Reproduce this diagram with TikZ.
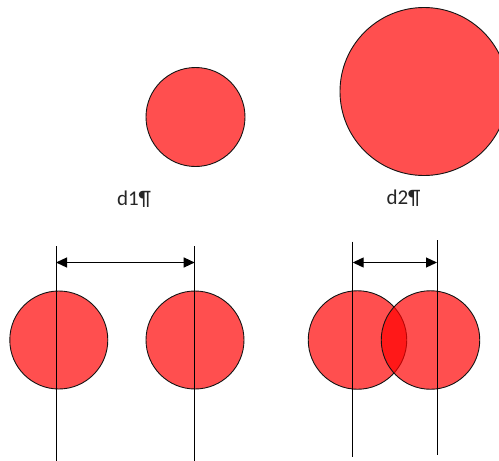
\documentclass[tikz,border=0pt]{standalone}
\usepackage{fontspec}
\setmainfont{Carlito}
\usetikzlibrary{arrows.meta}
\definecolor{inkline}{RGB}{20,20,20}
\tikzset{
  disc/.style={circle, draw=inkline, line width=0.9pt, fill=red, fill opacity=0.69, draw opacity=1, inner sep=0pt, minimum size=#1},
  guide/.style={draw=black, line width=1pt},
  dim/.style={line width=1.2pt, {Triangle[length=11pt,width=10pt]}-{Triangle[length=11pt,width=10pt]}},
  lbl/.style={font=\fontsize{21}{24}\selectfont, text=black!85, inner sep=0pt}
}
\begin{document}
\begin{tikzpicture}[x=1pt,y=-1pt]
\useasboundingbox (0,0) rectangle (499,461);
% top circles
\node[disc=99pt] (c1) at (195.5,117) {};
\node[disc=168pt] (c2) at (424,91.5) {};
\node[lbl] (l1) at (134,199) {d1¶};
\node[lbl] (l2) at (403.5,198) {d2¶};
% bottom left pair
\node[disc=98pt] (a1) at (58.8,340) {};
\node[disc=98pt] (a2) at (195,340) {};
\coordinate (g1t) at (56,246);
\coordinate (g1b) at (56,461);
\coordinate (g2t) at (194.7,246);
\coordinate (g2b) at (194.7,461);
\draw[guide] (g1t) -- (g1b);
\draw[guide] (g2t) -- (g2b);
\coordinate (d1a) at (56,262.5);
\coordinate (d1b) at (194.7,262.5);
\draw[dim] (d1a) -- (d1b);
% bottom right pair
\node[disc=98.5pt] (b1) at (357.5,340) {};
\node[disc=98.5pt] (b2) at (430.5,340) {};
\coordinate (h1t) at (352.7,241.5);
\coordinate (h1b) at (352.7,456.5);
\coordinate (h2t) at (437,240);
\coordinate (h2b) at (437,455);
\draw[guide] (h1t) -- (h1b);
\draw[guide] (h2t) -- (h2b);
\coordinate (d2a) at (352.7,262.5);
\coordinate (d2b) at (437,262.5);
\draw[dim] (d2a) -- (d2b);
\end{tikzpicture}
\end{document}
